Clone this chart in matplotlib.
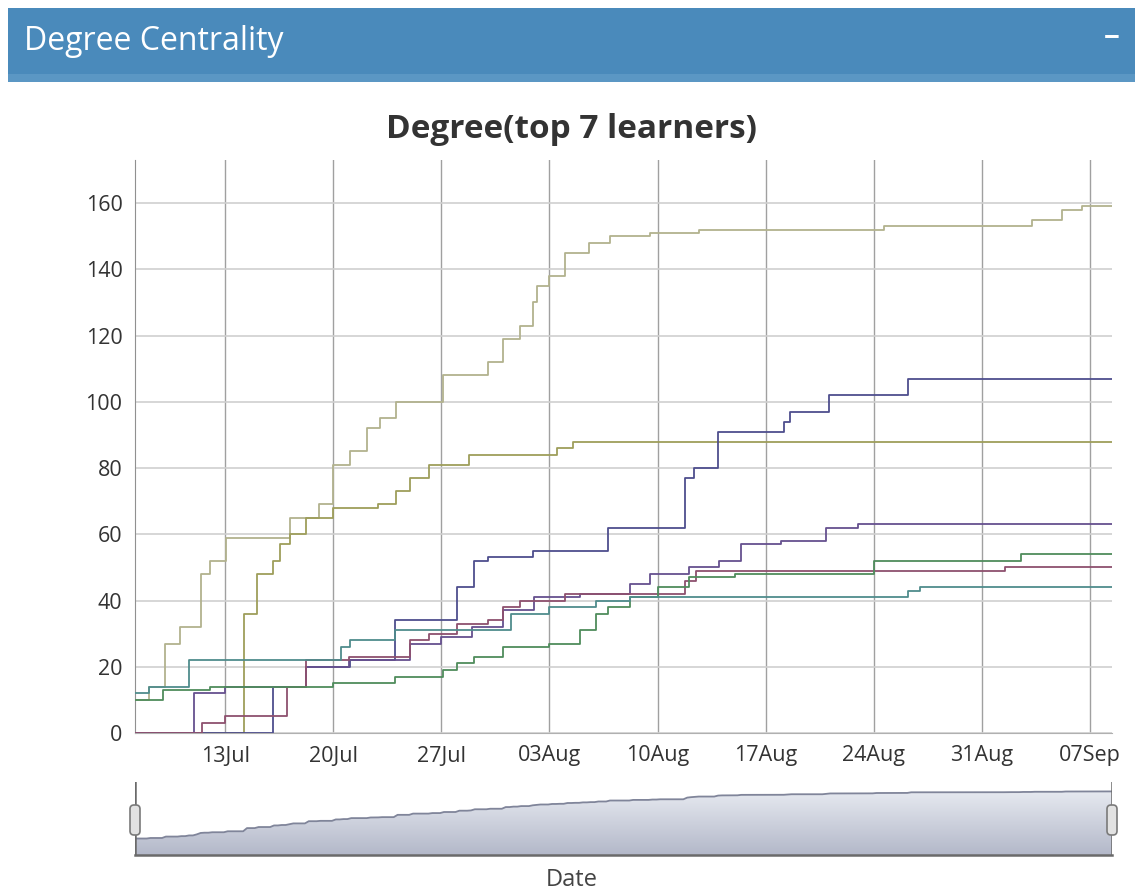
import numpy as np
import pandas as pd
import matplotlib
matplotlib.use('Agg')
import matplotlib.pyplot as plt
import matplotlib.dates as mdates
from matplotlib.patches import Rectangle, FancyBboxPatch
from matplotlib.transforms import IdentityTransform

plt.rcParams['font.family'] = ['Open Sans', 'DejaVu Sans']

# ---- data ----
year = '2015-'
start_date = '07-07 04:00'
end_date = '09-08 10:00'

a_dates = ['07-07 04:00', '07-08 02:00', '07-09 02:00', '07-10 02:00', '07-11 10:00', '07-12 00:00',
           '07-13 02:00', '07-17 05:00', '07-19 02:00', '07-20 00:00', '07-21 02:00', '07-22 05:00',
           '07-23 00:00', '07-24 02:00', '07-27 02:00', '07-30 00:00', '07-31 00:00', '08-01 02:00',
           '08-01 22:00', '08-02 05:00', '08-03 00:00', '08-04 00:00', '08-05 14:00', '08-06 22:00',
           '08-09 12:00', '08-12 16:00', '08-24 16:00', '09-03 05:00', '09-05 05:00', '09-06 12:00']
a_vals = [10, 14, 27, 32, 48, 52, 59, 65, 69, 81, 85, 92, 95, 100, 108, 112, 119, 123,
          130, 135, 138, 145, 148, 150, 151, 152, 153, 155, 158, 159]

b_dates = ['07-07 04:00', '07-14 05:00', '07-15 02:00', '07-16 02:00', '07-16 14:00', '07-17 05:00',
           '07-18 05:00', '07-20 00:00', '07-22 22:00', '07-24 02:00', '07-25 00:00', '07-26 05:00',
           '07-28 19:00', '08-03 12:00', '08-04 12:00']
b_vals = [0, 36, 48, 52, 57, 60, 65, 68, 69, 73, 77, 81, 84, 86, 88]

c_dates = ['07-07 04:00', '07-16 02:00', '07-18 05:00', '07-21 02:00', '07-24 00:00', '07-28 00:00',
           '07-29 02:00', '07-30 00:00', '08-01 22:00', '08-06 19:00', '08-11 19:00', '08-12 08:00',
           '08-13 22:00', '08-18 05:00', '08-18 14:00', '08-21 02:00', '08-26 05:00']
c_vals = [0, 14, 20, 22, 34, 44, 52, 53, 55, 62, 77, 80, 91, 94, 97, 102, 107]

d_dates = ['07-07 04:00', '07-11 00:00', '07-13 00:00', '07-18 05:00', '07-21 00:00', '07-25 00:00',
           '07-27 00:00', '07-29 00:00', '07-31 00:00', '08-02 00:00', '08-05 00:00', '08-08 05:00',
           '08-09 12:00', '08-12 00:00', '08-14 00:00', '08-15 10:00', '08-18 00:00', '08-20 22:00',
           '08-23 00:00']
d_vals = [0, 12, 14, 20, 22, 27, 29, 32, 37, 41, 42, 45, 48, 50, 52, 57, 58, 62, 63]

e_dates = ['07-07 04:00', '07-11 12:00', '07-13 00:00', '07-17 00:00', '07-18 05:00', '07-21 00:00',
           '07-25 00:00', '07-26 05:00', '07-28 00:00', '07-30 00:00', '07-31 00:00', '08-01 02:00',
           '08-04 00:00', '08-11 19:00', '08-12 12:00', '09-01 12:00']
e_vals = [0, 3, 5, 14, 22, 23, 28, 30, 33, 34, 38, 40, 42, 46, 49, 50]

f_dates = ['07-07 04:00', '07-09 00:00', '07-12 00:00', '07-20 00:00', '07-24 00:00', '07-27 02:00',
           '07-28 00:00', '07-29 02:00', '07-31 00:00', '08-03 00:00', '08-05 00:00', '08-06 00:00',
           '08-06 19:00', '08-08 05:00', '08-10 00:00', '08-12 00:00', '08-15 00:00', '08-24 00:00',
           '09-02 12:00']
f_vals = [10, 13, 14, 15, 17, 19, 21, 23, 26, 27, 31, 36, 38, 41, 44, 47, 48, 52, 54]

g_dates = ['07-07 04:00', '07-08 02:00', '07-10 16:00', '07-20 12:00', '07-21 02:00', '07-24 00:00',
           '07-31 12:00', '08-03 00:00', '08-06 00:00', '08-08 05:00', '08-26 05:00', '08-27 00:00']
g_vals = [12, 14, 22, 26, 28, 31, 36, 38, 40, 41, 43, 44]

all_dates = [a_dates, b_dates, c_dates, d_dates, e_dates, f_dates, g_dates]
all_vals = [a_vals, b_vals, c_vals, d_vals, e_vals, f_vals, g_vals]
colors = ['#b2b28e', '#9e9e5a', '#4e4e8e', '#66508f', '#8e506e', '#4f8c5c', '#4f8c8c']

tick_days = ['07-13', '07-20', '07-27', '08-03', '08-10', '08-17', '08-24', '08-31', '09-07']


def ts(lst):
    return pd.to_datetime([year + d for d in lst])


t0 = pd.Timestamp(year + start_date)
t1 = pd.Timestamp(year + end_date)

W, H = 1135, 893
fig = plt.figure(figsize=(W / 100, H / 100), dpi=100)
fig.patch.set_facecolor('white')

# header bar
fig.add_artist(Rectangle((8 / W, 1 - 82 / H), 1, 74 / H, transform=fig.transFigure,
                         facecolor='#4a8abb', edgecolor='none', zorder=0))
fig.add_artist(Rectangle((8 / W, 1 - 82 / H), 1, 8 / H, transform=fig.transFigure,
                         facecolor='#5b97c4', edgecolor='none', zorder=0))
fig.text(24 / W, 1 - 42 / H, 'Degree Centrality', color='white', fontsize=23,
         ha='left', va='center')
fig.text(1112 / W, 1 - 38 / H, '\u2212', color='white', fontsize=20, weight='bold',
         ha='center', va='center')

fig.text(572 / W, 1 - 130 / H, 'Degree(top 7 learners)', color='#333333', fontsize=24,
         weight='bold', ha='center', va='center')

# ---- main chart ----
ax = fig.add_axes([135 / W, 1 - 733 / H, (1112 - 135) / W, (733 - 160) / H])
for dts, vals, col in zip(all_dates, all_vals, colors):
    x = ts(dts + [end_date])
    y = vals + [vals[-1]]
    ax.step(x, y, where='post', color=col, lw=1.3, zorder=3)

ax.set_xlim(t0, t1)
ax.set_ylim(0, 173)
ax.set_yticks(range(0, 161, 20))
ax.set_xticks(ts(tick_days))
ax.xaxis.set_major_formatter(mdates.DateFormatter('%d%b'))
ax.yaxis.grid(True, color='#d0d0d0', lw=1.2)
ax.xaxis.grid(True, color='#a0a0a0', lw=1.0)
ax.set_axisbelow(True)
for s in ['top', 'right']:
    ax.spines[s].set_visible(False)
ax.spines['left'].set_color('#909090')
ax.spines['bottom'].set_color('#b0b0b0')
ax.tick_params(axis='both', labelsize=15.5, colors='#333333', length=0)
ax.tick_params(axis='y', pad=9)
ax.tick_params(axis='x', pad=9)

# ---- range selector ----
rs = fig.add_axes([135 / W, 1 - 855 / H, (1112 - 135) / W, (855 - 782) / H])
grid_t = pd.date_range(t0, t1, freq='6h')
stack = []
for dts, vals in zip(all_dates, all_vals):
    tt = ts(dts).values
    idx = np.searchsorted(tt, grid_t.values, side='right') - 1
    stack.append(np.array(vals)[np.clip(idx, 0, None)])
mean = np.mean(stack, axis=0)
lo, hi = mean.min(), mean.max()
r = hi - lo
ylo, yhi = lo - 0.35 * r, hi + 0.2 * r

poly = rs.fill_between(grid_t, mean, ylo, color='none')
grad = np.linspace(0, 1, 100).reshape(-1, 1)
cmap = matplotlib.colors.LinearSegmentedColormap.from_list('rs', ['#b3b8c9', '#e6e9f0'])
img = rs.imshow(grad, extent=[mdates.date2num(t0), mdates.date2num(t1), ylo, hi],
                aspect='auto', cmap=cmap, origin='lower', zorder=1)
img.set_clip_path(poly.get_paths()[0], rs.transData)
rs.plot(grid_t, mean, color='#80859a', lw=1.3, zorder=2)
rs.set_xlim(t0, t1)
rs.set_ylim(ylo, yhi)
rs.set_xticks([])
rs.set_yticks([])
for s in ['top', 'right', 'left']:
    rs.spines[s].set_visible(False)
rs.spines['bottom'].set_color('#6a6a6a')
rs.spines['bottom'].set_linewidth(1.8)
rs.axvline(t0, color='#6a6a6a', lw=1.8)
rs.axvline(t1, color='#6a6a6a', lw=1.8)

for xc in (135, 1112):
    fig.add_artist(FancyBboxPatch((xc - 5, H - 835), 10, 30,
                                  boxstyle='round,pad=0,rounding_size=4',
                                  facecolor='#e2e2e2', edgecolor='#7a7a7a', lw=1.2,
                                  transform=IdentityTransform(), zorder=5))

fig.text(572 / W, 1 - 880 / H, 'Date', color='#444444', fontsize=17, ha='center', va='center')

fig.savefig('out.png', dpi=100)
